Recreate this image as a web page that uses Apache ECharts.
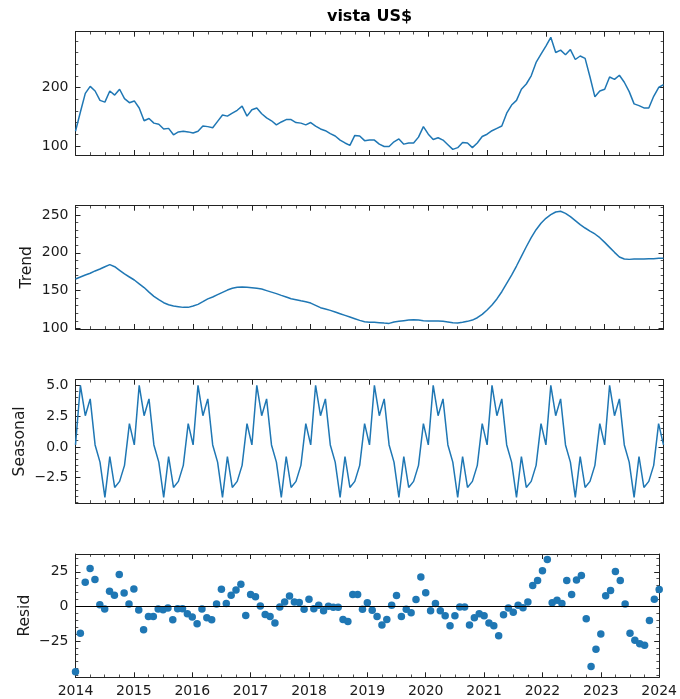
<!DOCTYPE html>
<html>
<head>
<meta charset="utf-8">
<script src="https://cdn.jsdelivr.net/npm/echarts@6/dist/echarts.min.js"></script>
<style>
html,body{margin:0;padding:0;background:#fff;}
#chart{width:680px;height:699px;}
</style>
</head>
<body>
<div id="chart"></div>
<script>
// ---------------- DATA ----------------
const startYear = 2014;
const startMonth = 1;
const title = 'vista US$';
const panelNames = ['', 'Trend', 'Seasonal', 'Resid'];

const observed = [
125,158,190,202,194,178,175,194,187,197,181,174,
177,165,143,147,139,137,129,130,119,124,125,124,
122,125,134,133,131,142,153,151,156,161,168,151,
162,165,155,148,143,136,141,145,145,140,139,136,
140,134,129,126,121,117,110,105,101,118,117,109,
110,110,103,99,99,107,112,103,105,105,115,133,
120,111,114,110,102,94,97,106,105,97,105,116,
120,126,130,134,156,170,178,197,206,220,243,257,
271,286,260,264,256,265,248,254,250,218,184,194,
197,218,214,221,209,193,172,169,165,165,185,200,
205
];

const trend = [
165.3,168,170.6,173,176,178.5,181.6,184.3,181.6,176.8,172,168,
164,159,154,148,142.4,138,134,131.3,129.6,128.7,127.8,127.8,
129.6,131.8,135.3,139,141.5,144.6,147.7,150.7,153,154.3,154.7,154.3,
153.8,153,152,150,148,146,143.7,141.5,139.3,138,136.6,135.3,
133.5,130.5,127.4,125.6,123.8,121.6,119.4,117.2,115,112.8,110.6,108.8,
108.2,108,107.5,107,106.6,108.4,109.3,110.2,111,111.5,111,110.2,
109.7,109.7,109.7,109.3,108.4,107.5,107,108,109.3,111,114.1,118.5,
124.3,131,139,148.5,159.6,170.6,182.5,195.3,208,220,230.6,239,
245.6,250.4,254,254.9,252.2,247.8,242.5,237.2,232.8,228.8,224.9,220,
213.8,207.2,200.6,194.4,191.8,191.3,191.8,191.8,191.8,192.2,192.2,192.7,
192.7
];

const seasonal = [
0.16,5.0,2.53,3.9,0.16,-1.24,-4.1,-0.78,-3.29,-2.8,-1.5,1.89,
0.16,5.0,2.53,3.9,0.16,-1.24,-4.1,-0.78,-3.29,-2.8,-1.5,1.89,
0.16,5.0,2.53,3.9,0.16,-1.24,-4.1,-0.78,-3.29,-2.8,-1.5,1.89,
0.16,5.0,2.53,3.9,0.16,-1.24,-4.1,-0.78,-3.29,-2.8,-1.5,1.89,
0.16,5.0,2.53,3.9,0.16,-1.24,-4.1,-0.78,-3.29,-2.8,-1.5,1.89,
0.16,5.0,2.53,3.9,0.16,-1.24,-4.1,-0.78,-3.29,-2.8,-1.5,1.89,
0.16,5.0,2.53,3.9,0.16,-1.24,-4.1,-0.78,-3.29,-2.8,-1.5,1.89,
0.16,5.0,2.53,3.9,0.16,-1.24,-4.1,-0.78,-3.29,-2.8,-1.5,1.89,
0.16,5.0,2.53,3.9,0.16,-1.24,-4.1,-0.78,-3.29,-2.8,-1.5,1.89,
0.16,5.0,2.53,3.9,0.16,-1.24,-4.1,-0.78,-3.29,-2.8,-1.5,1.89,
0.16
];

const resid = [
-47.3,-19.4,17.5,27.4,19.4,1.2,-1.9,10.9,8,23,9.7,1.7,
12.6,-2.7,-17,-7.3,-7.3,-1.9,-2.4,-1.2,-9.7,-1.7,-1.7,-5.3,
-7.8,-12.6,-1.9,-8.3,-9.7,1.7,12.3,2.0,8.1,11.8,15.9,-6.6,
8.6,6.9,0.2,-5.9,-7.4,-12.0,-0.5,3.2,7.4,3.2,2.7,-2.2,
5.1,-1.7,0.7,-3.2,0,-0.7,-0.7,-9.6,-11.0,8.6,8.6,-2.2,
2.5,-2.9,-7.4,-13.5,-9.6,0.7,7.8,-7.4,-2.2,-4.7,4.9,21.3,
9.8,-3.2,2.0,-3.2,-6.9,-14.0,-6.9,-0.5,-0.5,-13.5,-8.3,-5.4,
-6.9,-12.0,-14.0,-21.3,-6.1,-1.2,-4.2,0.7,-1.0,3.2,15.0,18.6,
25.7,33.8,2.5,4.4,2.0,18.6,8.6,19.1,22.3,-9.0,-43.6,-31.0,
-20.1,7.6,11.5,25.2,18.6,1.7,-19.4,-24.5,-27.0,-28.2,-10.3,5.1,
12.2
];

const yearTicks = [2014,2015,2016,2017,2018,2019,2020,2021,2022,2023,2024];
const observedTicks = [100,200];
const trendTicks = [100,150,200,250];
const seasonalTicks = [-2.5,0.0,2.5,5.0];
const residTicks = [-25,0,25];

// ---------------- BUILD ----------------
// month positions (fractional years) for each observation
const months = observed.map((_, i) => startYear + (startMonth - 1 + i) / 12);
const xMin = yearTicks[0], xMax = yearTicks[yearTicks.length - 1];

const panels = [
  {values: observed, ticks: observedTicks, minor: 20, fmt: v => String(v), kind: 'line'},
  {values: trend, ticks: trendTicks, minor: 10, fmt: v => String(v), kind: 'line'},
  {values: seasonal, ticks: seasonalTicks, minor: 0.5, fmt: v => v.toFixed(1).replace('-', '\u2212'), kind: 'line'},
  {values: resid, ticks: residTicks, minor: 5, fmt: v => String(v).replace('-', '\u2212'), kind: 'scatter'}
];

const L = 75.5, R = 680 - 663.5;
const tops = [31.7, 205.7, 379.7, 554];
const H = 123.3;
const textColor = '#1a1a1a';
const spineColor = '#222';
const fontFamily = 'DejaVu Sans';

function minorValues(lo, hi, step, majors) {
  const out = [];
  const start = Math.ceil(lo / step - 1e-9) * step;
  for (let v = start; v <= hi + 1e-9; v += step) {
    const r = Math.round(v * 1000) / 1000;
    if (!majors.some(m => Math.abs(m - r) < 1e-6)) out.push(r);
  }
  return out;
}

const grids = [], xAxes = [], yAxes = [], series = [], graphics = [];
const xMinor = minorValues(xMin, xMax, 0.25, yearTicks);

panels.forEach((p, g) => {
  grids.push({left: L, right: R, top: tops[g], height: H, containLabel: false});
  const dmin = Math.min(...p.values), dmax = Math.max(...p.values);
  const pad = (dmax - dmin) * 0.05;
  const ymin = dmin - pad, ymax = dmax + pad;
  const yMinor = minorValues(ymin, ymax, p.minor, p.ticks);

  const baseX = {type: 'value', gridIndex: g, min: xMin, max: xMax, splitLine: {show: false}};
  const positionsX = ['bottom', 'top'];
  positionsX.forEach(pos => {
    xAxes.push(Object.assign({}, baseX, {
      position: pos,
      axisLine: {show: true, onZero: false, lineStyle: {color: spineColor, width: 1}},
      axisTick: {show: true, inside: true, length: 5, customValues: yearTicks, lineStyle: {color: spineColor, width: 1}},
      axisLabel: {show: g === 3 && pos === 'bottom', customValues: yearTicks, margin: 7,
        color: textColor, fontSize: 14, fontFamily: fontFamily, formatter: v => String(v)}
    }));
    xAxes.push(Object.assign({}, baseX, {
      position: pos,
      axisLine: {show: false, onZero: false},
      axisTick: {show: true, inside: true, length: 2.8, customValues: xMinor, lineStyle: {color: spineColor, width: 0.8}},
      axisLabel: {show: false}
    }));
  });

  const baseY = {type: 'value', gridIndex: g, min: ymin, max: ymax, splitLine: {show: false}};
  ['left', 'right'].forEach(pos => {
    yAxes.push(Object.assign({}, baseY, {
      position: pos,
      axisLine: {show: true, onZero: false, lineStyle: {color: spineColor, width: 1}},
      axisTick: {show: true, inside: true, length: 5, customValues: p.ticks, lineStyle: {color: spineColor, width: 1}},
      axisLabel: {show: pos === 'left', customValues: p.ticks, margin: 7,
        color: textColor, fontSize: 14, fontFamily: fontFamily, formatter: p.fmt}
    }));
    yAxes.push(Object.assign({}, baseY, {
      position: pos,
      axisLine: {show: false, onZero: false},
      axisTick: {show: true, inside: true, length: 2.8, customValues: yMinor, lineStyle: {color: spineColor, width: 0.8}},
      axisLabel: {show: false}
    }));
  });

  const data = p.values.map((v, i) => [months[i], v]);
  if (p.kind === 'line') {
    series.push({
      type: 'line', xAxisIndex: g * 4, yAxisIndex: g * 4, data: data,
      showSymbol: false, symbol: 'none', lineStyle: {color: '#1f77b4', width: 1.5},
      itemStyle: {color: '#1f77b4'}, animation: false, silent: true
    });
  } else {
    series.push({
      type: 'scatter', xAxisIndex: g * 4, yAxisIndex: g * 4, data: data,
      symbol: 'circle', symbolSize: 7.5, itemStyle: {color: '#1f77b4', opacity: 1},
      animation: false, silent: true, z: 3,
      markLine: {
        silent: true, symbol: ['none', 'none'], animation: false,
        label: {show: false},
        lineStyle: {color: '#000', width: 1.2, type: 'solid'},
        data: [{yAxis: 0}]
      }
    });
  }

  if (panelNames[g]) {
    const lx = [0, 27, 20, 25][g];
    graphics.push({
      type: 'text', x: lx, y: tops[g] + H / 2, rotation: Math.PI / 2,
      style: {text: panelNames[g], fill: textColor, font: '15.5px "DejaVu Sans"',
        textAlign: 'center', textVerticalAlign: 'middle'}
    });
  }
});

graphics.push({
  type: 'text', x: L + (680 - R - L) / 2, y: 17,
  style: {text: title, fill: '#000', font: 'bold 16px "DejaVu Sans"',
    textAlign: 'center', textVerticalAlign: 'middle'}
});

const chart = echarts.init(document.getElementById('chart'), null, {renderer: 'canvas'});
chart.setOption({
  animation: false,
  backgroundColor: '#fff',
  grid: grids,
  xAxis: xAxes,
  yAxis: yAxes,
  series: series,
  graphic: graphics
});
</script>
</body>
</html>
